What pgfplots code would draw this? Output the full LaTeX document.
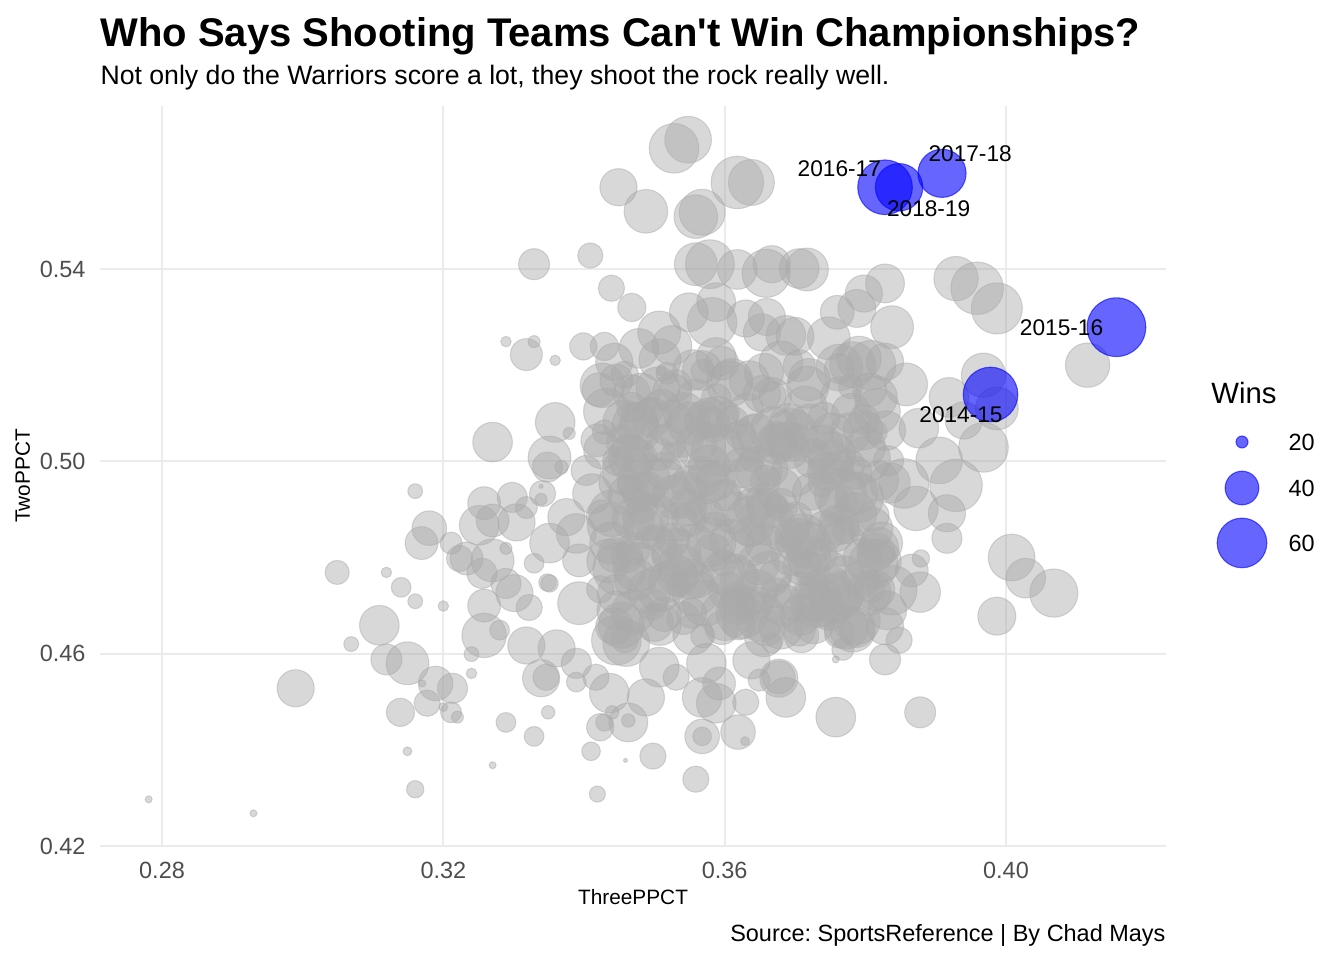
\documentclass[border=0pt]{standalone}
\usepackage{pgfplots}
\pgfplotsset{compat=1.18}
\usepackage{pgfplotstable}
\usepackage{fontspec}
\setmainfont{Liberation Sans}
\newfontfamily\plainfont{Liberation Sans}
\definecolor{gridc}{RGB}{235,235,235}
\definecolor{tickc}{RGB}{77,77,77}
\definecolor{dgray}{RGB}{169,169,169}
\frenchspacing

\pgfplotstableread{
x y w
0.3528 0.5651 60
0.3548 0.5669 56
0.3449 0.5570 44
0.3488 0.5520 52
0.3559 0.5509 52
0.3568 0.5518 55
0.3618 0.5580 64
0.3638 0.5580 55
0.3329 0.5410 37
0.3409 0.5428 31
0.3439 0.5360 32
0.3468 0.5320 34
0.3559 0.5410 51
0.3579 0.5410 59
0.3618 0.5399 47
0.3659 0.5391 58
0.3667 0.5410 44
0.3706 0.5401 47
0.3588 0.5331 46
0.3549 0.5310 46
0.3582 0.5289 60
0.3507 0.5268 51
0.3630 0.5297 44
0.3653 0.5268 44
0.3687 0.5262 47
0.3289 0.5249 19
0.3329 0.5249 20
0.3318 0.5222 38
0.3359 0.5210 19
0.3399 0.5239 33
0.3429 0.5239 34
0.3478 0.5235 47
0.3525 0.5241 47
0.3717 0.5399 51
0.3798 0.5349 44
0.3828 0.5370 46
0.3788 0.5318 45
0.3838 0.5279 51
0.3929 0.5380 53
0.3959 0.5360 64
0.3987 0.5318 62
0.3748 0.5256 51
0.3791 0.5214 53
0.4116 0.5200 53
0.3968 0.5179 53
0.3858 0.5160 51
0.3808 0.5200 60
0.3919 0.5133 47
0.3987 0.5110 51
0.3968 0.5029 60
0.3940 0.5085 44
0.3876 0.5069 47
0.3905 0.5002 56
0.3929 0.4950 64
0.3855 0.4954 60
0.3916 0.4892 44
0.3872 0.4902 53
0.3916 0.4840 36
0.3879 0.4798 24
0.4008 0.4800 56
0.4028 0.4757 47
0.4068 0.4726 58
0.3829 0.5064 47
0.3815 0.5133 51
0.3763 0.5195 56
0.3819 0.4960 47
0.3866 0.4773 39
0.3819 0.4821 47
0.3987 0.4678 45
0.3878 0.4728 48
0.3838 0.4732 60
0.3709 0.4638 41
0.3788 0.4649 41
0.3768 0.4609 28
0.3758 0.4588 17
0.3848 0.4628 32
0.3828 0.4588 37
0.3687 0.4509 47
0.3677 0.4549 45
0.3758 0.4468 47
0.3878 0.4478 37
0.3724 0.4711 47
0.3748 0.4690 47
0.3767 0.4726 53
0.3805 0.4726 53
0.3200 0.4699 19
0.3258 0.4638 53
0.3240 0.4599 22
0.3240 0.4559 19
0.3213 0.4528 36
0.3211 0.4478 27
0.3220 0.4468 20
0.3289 0.4457 26
0.3329 0.4428 26
0.3349 0.4478 21
0.3270 0.4368 17
0.3410 0.4397 25
0.3419 0.4308 23
0.3459 0.4378 15
0.3498 0.4387 32
0.3559 0.4339 32
0.3568 0.4428 41
0.3568 0.4428 25
0.3619 0.4437 41
0.3629 0.4418 18
0.3423 0.4447 33
0.3463 0.4457 46
0.3463 0.4461 21
0.3429 0.4457 24
0.3440 0.4478 21
0.3339 0.4549 44
0.3346 0.4551 32
0.3389 0.4541 26
0.3436 0.4518 47
0.3488 0.4509 44
0.3568 0.4509 47
0.3588 0.4497 47
0.3630 0.4499 32
0.3677 0.4551 39
0.3649 0.4545 28
0.3638 0.4586 44
0.3667 0.4622 26
0.3659 0.4655 44
0.3620 0.4663 39
0.3623 0.4705 32
0.3673 0.4726 36
0.3393 0.4705 51
0.3351 0.4746 24
0.3301 0.4726 44
0.3322 0.4696 32
0.3280 0.4649 26
0.3318 0.4617 44
0.3361 0.4611 44
0.3389 0.4580 36
0.3446 0.4628 60
0.3460 0.4622 56
0.3507 0.4572 47
0.3531 0.4551 32
0.3574 0.4580 47
0.3592 0.4538 39
0.3417 0.4551 32
0.3258 0.4700 39
0.2781 0.4297 17
0.2930 0.4268 17
0.2990 0.4528 44
0.3069 0.4620 22
0.3109 0.4659 47
0.3140 0.4738 26
0.3160 0.4709 22
0.3119 0.4588 37
0.3149 0.4580 51
0.3189 0.4538 41
0.3177 0.4497 32
0.3139 0.4478 34
0.3170 0.4538 17
0.3200 0.4489 18
0.3149 0.4397 18
0.3160 0.4318 24
0.3160 0.4938 22
0.3180 0.4861 41
0.3169 0.4830 39
0.3211 0.4830 28
0.3223 0.4798 32
0.3049 0.4769 30
0.3119 0.4769 19
0.3426 0.5158 53
0.3446 0.5168 39
0.3468 0.5141 44
0.3518 0.5183 28
0.3510 0.5189 19
0.3525 0.5141 47
0.3568 0.5189 47
0.3588 0.5216 47
0.3635 0.5168 47
0.3667 0.5133 47
0.3270 0.5040 47
0.3359 0.5081 47
0.3379 0.5058 20
0.3351 0.5008 51
0.3348 0.4988 36
0.3368 0.4988 21
0.3419 0.5044 39
0.3426 0.5023 44
0.3403 0.4981 36
0.3478 0.5064 51
0.3468 0.5112 36
0.3497 0.5091 47
0.3549 0.5079 51
0.3578 0.5091 47
0.3645 0.5058 47
0.3677 0.5044 44
0.3258 0.4913 39
0.3298 0.4925 36
0.3251 0.4867 47
0.3270 0.4877 39
0.3304 0.4873 44
0.3318 0.4904 28
0.3339 0.4921 20
0.3339 0.4948 15
0.3341 0.4933 32
0.3233 0.4798 39
0.3255 0.4767 36
0.3270 0.4794 51
0.3289 0.4819 20
0.3329 0.4788 26
0.3348 0.4748 24
0.3351 0.4830 47
0.3389 0.4850 47
0.3393 0.4794 39
0.3375 0.4884 44
0.3412 0.4933 47
0.3440 0.4892 56
0.3289 0.4746 36
0.3720 0.5170 50
0.3780 0.5100 47
0.3700 0.5260 45
0.3760 0.5310 40
0.3660 0.5300 44
0.3610 0.5170 50
0.3560 0.5130 47
0.3510 0.5110 45
0.3470 0.4880 50
0.3500 0.4820 55
0.3720 0.4800 52
0.3770 0.4760 50
0.3458 0.5082 52
0.3473 0.5074 56
0.3523 0.5079 55
0.3570 0.5086 45
0.3584 0.5076 41
0.3611 0.5080 39
0.3671 0.5062 60
0.3695 0.5055 64
0.3721 0.5068 59
0.3778 0.5059 48
0.3797 0.5065 47
0.3465 0.5018 45
0.3479 0.5009 41
0.3506 0.5015 39
0.3566 0.5032 60
0.3590 0.5024 64
0.3616 0.5029 59
0.3673 0.5036 48
0.3692 0.5026 47
0.3738 0.5030 52
0.3753 0.5012 56
0.3803 0.5005 55
0.3461 0.4980 60
0.3485 0.4962 64
0.3511 0.4955 59
0.3568 0.4968 48
0.3587 0.4959 47
0.3633 0.4965 52
0.3648 0.4982 56
0.3698 0.4974 55
0.3745 0.4979 45
0.3759 0.4986 41
0.3786 0.4976 39
0.3463 0.4929 48
0.3482 0.4936 47
0.3528 0.4926 52
0.3543 0.4930 56
0.3593 0.4912 55
0.3640 0.4905 45
0.3654 0.4918 41
0.3681 0.4909 39
0.3741 0.4915 60
0.3765 0.4932 64
0.3791 0.4924 59
0.3438 0.4865 56
0.3488 0.4882 55
0.3535 0.4874 45
0.3549 0.4879 41
0.3576 0.4886 39
0.3636 0.4876 60
0.3660 0.4880 64
0.3686 0.4862 59
0.3743 0.4855 48
0.3762 0.4868 47
0.3808 0.4859 52
0.3444 0.4805 41
0.3471 0.4818 39
0.3531 0.4809 60
0.3555 0.4815 64
0.3581 0.4832 59
0.3638 0.4824 48
0.3657 0.4829 47
0.3703 0.4836 52
0.3718 0.4826 56
0.3768 0.4830 55
0.3815 0.4812 45
0.3450 0.4776 64
0.3476 0.4780 59
0.3533 0.4762 48
0.3552 0.4755 47
0.3598 0.4768 52
0.3613 0.4759 56
0.3663 0.4765 55
0.3710 0.4782 45
0.3724 0.4774 41
0.3751 0.4779 39
0.3811 0.4786 60
0.3447 0.4724 47
0.3493 0.4729 52
0.3508 0.4736 56
0.3558 0.4726 55
0.3605 0.4730 45
0.3619 0.4712 41
0.3646 0.4705 39
0.3706 0.4718 60
0.3730 0.4709 64
0.3756 0.4715 59
0.3813 0.4732 48
0.3453 0.4659 55
0.3500 0.4665 45
0.3514 0.4682 41
0.3541 0.4674 39
0.3601 0.4679 60
0.3625 0.4686 64
0.3651 0.4676 59
0.3708 0.4680 48
0.3727 0.4662 47
0.3773 0.4655 52
0.3788 0.4668 56
0.3443 0.5207 44
0.3458 0.5180 33
0.3508 0.5211 50
0.3555 0.5190 48
0.3569 0.5187 30
0.3596 0.5204 40
0.3656 0.5184 46
0.3680 0.5205 52
0.3706 0.5199 38
0.3763 0.5193 36
0.3782 0.5201 55
0.3828 0.5207 44
0.3421 0.5149 40
0.3481 0.5143 46
0.3505 0.5151 52
0.3531 0.5157 38
0.3588 0.5130 36
0.3607 0.5161 55
0.3653 0.5140 44
0.3668 0.5137 33
0.3718 0.5154 50
0.3765 0.5134 48
0.3779 0.5155 30
0.3806 0.5149 40
0.3432 0.5104 55
0.3478 0.5084 44
0.3493 0.5105 33
0.3543 0.5099 50
0.3590 0.5093 48
0.3604 0.5101 30
0.3631 0.5107 40
0.3691 0.5080 46
0.3715 0.5111 52
0.3741 0.5090 38
0.3798 0.5087 36
0.3817 0.5104 55
0.3429 0.5061 30
0.3456 0.5040 40
0.3516 0.5037 46
0.3540 0.5054 52
0.3566 0.5034 38
0.3623 0.5055 36
0.3642 0.5049 55
0.3688 0.5043 44
0.3703 0.5051 33
0.3753 0.5057 50
0.3800 0.5030 48
0.3814 0.5061 30
0.3448 0.5001 36
0.3467 0.5007 55
0.3513 0.4980 44
0.3528 0.5011 33
0.3578 0.4990 50
0.3625 0.4987 48
0.3639 0.5004 30
0.3666 0.4984 40
0.3726 0.5005 46
0.3750 0.4999 52
0.3776 0.4993 38
0.3833 0.5001 36
0.3450 0.4955 48
0.3464 0.4949 30
0.3491 0.4943 40
0.3551 0.4951 46
0.3575 0.4957 52
0.3601 0.4930 38
0.3658 0.4961 36
0.3677 0.4940 55
0.3723 0.4937 44
0.3738 0.4954 33
0.3788 0.4934 50
0.3835 0.4955 48
0.3426 0.4887 38
0.3483 0.4904 36
0.3502 0.4884 55
0.3548 0.4905 44
0.3563 0.4899 33
0.3613 0.4893 50
0.3660 0.4901 48
0.3674 0.4907 30
0.3701 0.4880 40
0.3761 0.4911 46
0.3785 0.4890 52
0.3811 0.4887 38
0.3438 0.4830 50
0.3485 0.4861 48
0.3499 0.4840 30
0.3526 0.4837 40
0.3586 0.4854 46
0.3610 0.4834 52
0.3636 0.4855 38
0.3693 0.4849 36
0.3712 0.4843 55
0.3758 0.4851 44
0.3773 0.4857 33
0.3823 0.4830 50
0.3435 0.4793 52
0.3461 0.4801 38
0.3518 0.4807 36
0.3537 0.4780 55
0.3583 0.4811 44
0.3598 0.4790 33
0.3648 0.4787 50
0.3695 0.4804 48
0.3709 0.4784 30
0.3736 0.4805 40
0.3796 0.4799 46
0.3820 0.4793 52
0.3423 0.4734 33
0.3473 0.4755 50
0.3520 0.4749 48
0.3534 0.4743 30
0.3561 0.4751 40
0.3621 0.4757 46
0.3645 0.4730 52
0.3671 0.4761 38
0.3728 0.4740 36
0.3747 0.4737 55
0.3793 0.4754 44
0.3808 0.4734 33
0.3446 0.4690 46
0.3470 0.4687 52
0.3496 0.4704 38
0.3553 0.4684 36
0.3572 0.4705 55
0.3618 0.4699 44
0.3633 0.4693 33
0.3683 0.4701 50
0.3730 0.4707 48
0.3744 0.4680 30
0.3771 0.4711 40
0.3831 0.4690 46
0.3443 0.4657 44
0.3458 0.4630 33
0.3508 0.4661 50
0.3555 0.4640 48
0.3569 0.4637 30
0.3596 0.4654 40
0.3656 0.4634 46
0.3680 0.4655 52
0.3706 0.4649 38
0.3763 0.4643 36
0.3782 0.4651 55
0.3828 0.4657 44
}\graydata

\pgfplotstableread{
x y w
0.3978 0.5139 67
0.4157 0.5279 73
0.3828 0.5570 67
0.3909 0.5599 58
0.3848 0.5570 57
}\bluedata

\pgfplotstableread{
x y w
5 0 20
5 -17.25 40
5 -37.85 60
}\legenddata

\pgfplotsset{
  bubble/.style={
    only marks, scatter, mark=*,
    scatter/use mapped color={draw=#1, fill=#1},
    visualization depends on={0.1875*pow(max(8,41.6+7.7*(\thisrow{w}-20)),0.666667) \as \msize},
    scatter/@pre marker code/.append style={/tikz/mark size=\msize},
  },
}

\begin{document}
\begin{tikzpicture}
\path[use as bounding box] (0,0) rectangle (504pt,360pt);

\begin{axis}[
  at={(37.5pt,42.75pt)}, anchor=south west,
  scale only axis, width=399.75pt, height=277.5pt,
  xmin=0.27118, xmax=0.42275, ymin=0.42, ymax=0.5739,
  axis line style={draw=none},
  major tick length=0pt,
  xtick={0.28,0.32,0.36,0.40}, xticklabels={0.28,0.32,0.36,0.40},
  ytick={0.42,0.46,0.50,0.54}, yticklabels={0.42,0.46,0.50,0.54},
  xmajorgrids, ymajorgrids,
  major grid style={draw=gridc, line width=0.8pt},
  ticklabel style={font=\fontsize{8.8}{10}\selectfont, text=tickc},
  xticklabel style={anchor=center, inner sep=0pt, yshift=-9pt},
  yticklabel style={anchor=east, inner sep=0pt, xshift=-5.25pt},
  clip=false,
]
\addplot[bubble=dgray, mark options={fill opacity=0.46, draw opacity=0.46, line width=0.4pt}] table {\graydata};
\addplot[bubble=blue, mark options={fill opacity=0.6, draw opacity=0.6, line width=0.4pt}] table {\bluedata};
\coordinate (L1) at (axis cs:0.3763,0.5609);
\coordinate (L2) at (axis cs:0.3949,0.5640);
\coordinate (L3) at (axis cs:0.3890,0.5526);
\coordinate (L4) at (axis cs:0.4079,0.5277);
\coordinate (L5) at (axis cs:0.3936,0.5096);
\end{axis}

\begin{scope}[every node/.style={font=\fontsize{8.5}{10}\selectfont, inner sep=0pt}]
\node at (L1) {2016-17};
\node at (L2) {2017-18};
\node at (L3) {2018-19};
\node at (L4) {2015-16};
\node at (L5) {2014-15};
\end{scope}

\begin{axis}[
  at={(460.75pt,154.25pt)}, anchor=south west,
  scale only axis, width=10pt, height=40pt,
  xmin=0, xmax=10, ymin=-40, ymax=0,
  hide axis, clip=false,
]
\addplot[bubble=blue, mark options={fill opacity=0.6, draw opacity=0.6, line width=0.4pt}] table {\legenddata};
\node[anchor=west, inner sep=0pt, font=\fontsize{8.8}{10}\selectfont] at (axis cs:22.25,0) {20};
\node[anchor=west, inner sep=0pt, font=\fontsize{8.8}{10}\selectfont] at (axis cs:22.25,-17.25) {40};
\node[anchor=west, inner sep=0pt, font=\fontsize{8.8}{10}\selectfont] at (axis cs:22.25,-37.85) {60};
\node[anchor=base west, inner sep=0pt, font=\fontsize{11}{13}\selectfont] at (axis cs:-6.65,14.25) {Wins};
\end{axis}

\node[anchor=base west, inner sep=0pt, font=\plainfont\fontsize{15}{18}\bfseries\selectfont] at (37.5pt,342.4pt) {Who Says Shooting Teams Can't Win Championships?};
\node[anchor=base west, inner sep=0pt, font=\fontsize{10}{12}\selectfont] at (37.5pt,328.5pt) {Not only do the Warriors score a lot, they shoot the rock really well.};
\node[anchor=base, inner sep=0pt, font=\fontsize{7.8}{9}\selectfont] at (237.4pt,20.9pt) {ThreePPCT};
\node[anchor=base, inner sep=0pt, rotate=90, font=\fontsize{7.8}{9}\selectfont] at (11.25pt,181.5pt) {TwoPPCT};
\node[anchor=base east, inner sep=0pt, font=\fontsize{8.8}{10}\selectfont] at (437.25pt,7.1pt) {Source: SportsReference | By Chad Mays};
\end{tikzpicture}
\end{document}
